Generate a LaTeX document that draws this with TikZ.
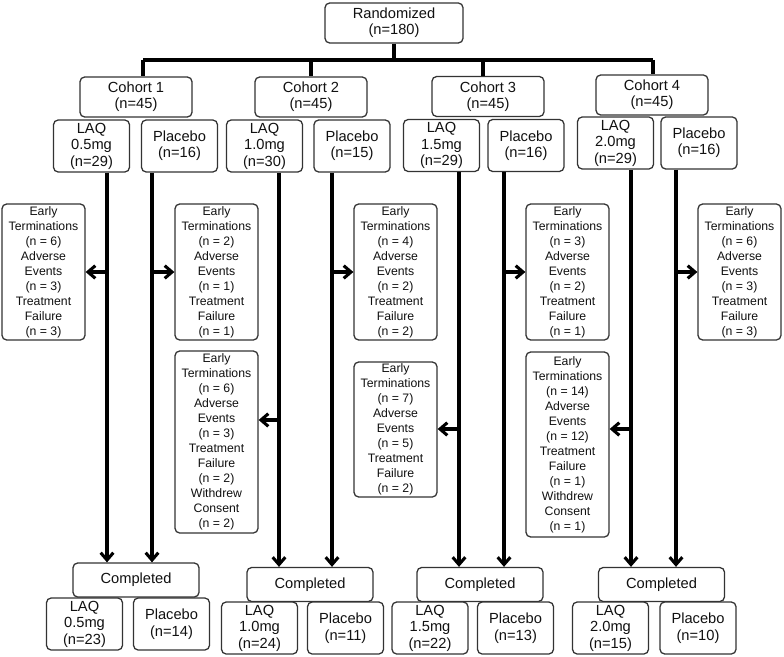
\documentclass[tikz,border=0pt]{standalone}
\usepackage{fontspec}
\setmainfont{Liberation Sans}
\usetikzlibrary{arrows.meta, calc}
\definecolor{boxstroke}{HTML}{333333}
\definecolor{boxtext}{HTML}{111111}
\definecolor{linkstroke}{HTML}{000000}

\begin{document}
\begin{tikzpicture}[
    x=0.75pt, y=-0.75pt,
    group/.style={rectangle, rounded corners=3.5pt, draw=boxstroke, fill=white, text=boxtext, line width=0.95pt, align=center, inner sep=0pt, font=\fontsize{11}{12.3}\selectfont},
    cohort/.style={group, minimum width=84pt, minimum height=30pt},
    arm/.style={group, minimum width=57pt, minimum height=39pt},
    done/.style={group, minimum width=94.5pt, minimum height=25.5pt},
    dropout/.style={group, minimum width=62.25pt, font=\fontsize{9.2}{11.25}\selectfont},
    link/.style={line width=2.3pt, draw=linkstroke},
    arrow/.style={-{Straight Barb[length=5.5pt,width=9.5pt]}, line width=2.3pt, draw=linkstroke}
]
    \useasboundingbox (0,0) rectangle (784,656);

    % Randomization and cohorts
    \node[group, minimum width=103.5pt, minimum height=30pt] (rand) at (394,23) {Randomized\\(n=180)};
    \node[cohort] (coh1) at (136,97) {Cohort 1\\(n=45)};
    \node[cohort] (coh2) at (311,97) {Cohort 2\\(n=45)};
    \node[cohort] (coh3) at (488,96.5) {Cohort 3\\(n=45)};
    \node[cohort] (coh4) at (652,95) {Cohort 4\\(n=45)};

    \coordinate (bus1) at (143,60);
    \coordinate (bus3) at (483,60);
    \coordinate (bus4) at (653,60);
    \draw[link] (bus1) -- (bus4);
    \draw[link] (rand.south) -- (rand.south |- bus1);
    \draw[link] (bus1) -- (bus1 |- coh1.north);
    \draw[link] (coh2.north |- bus1) -- (coh2.north);
    \draw[link] (bus3) -- (bus3 |- coh3.north);
    \draw[link] (bus4) -- (bus4 |- coh4.north);

    % Treatment arms
    \node[arm] (laq1) at (91.5,146) {LAQ\\0.5mg\\(n=29)};
    \node[arm] (plc1) at (179.5,146) {Placebo\\(n=16)};
    \node[arm] (laq2) at (264.5,146) {LAQ\\1.0mg\\(n=30)};
    \node[arm] (plc2) at (352,146) {Placebo\\(n=15)};
    \node[arm] (laq3) at (441.5,145.5) {LAQ\\1.5mg\\(n=29)};
    \node[arm] (plc3) at (526,145.5) {Placebo\\(n=16)};
    \node[arm] (laq4) at (615.5,143) {LAQ\\2.0mg\\(n=29)};
    \node[arm] (plc4) at (699,143) {Placebo\\(n=16)};

    % Early terminations
    \node[dropout, minimum height=102pt] (etA) at (43.5,272) {Early\\Terminations\\(n = 6)\\Adverse\\Events\\(n = 3)\\Treatment\\Failure\\(n = 3)};
    \node[dropout, minimum height=102pt] (etB) at (216.5,272) {Early\\Terminations\\(n = 2)\\Adverse\\Events\\(n = 1)\\Treatment\\Failure\\(n = 1)};
    \node[dropout, minimum height=136.5pt] (etC) at (216.5,442) {Early\\Terminations\\(n = 6)\\Adverse\\Events\\(n = 3)\\Treatment\\Failure\\(n = 2)\\Withdrew\\Consent\\(n = 2)};
    \node[dropout, minimum height=102pt] (etD) at (395.5,272) {Early\\Terminations\\(n = 4)\\Adverse\\Events\\(n = 2)\\Treatment\\Failure\\(n = 2)};
    \node[dropout, minimum height=101.25pt] (etE) at (395.5,429.5) {Early\\Terminations\\(n = 7)\\Adverse\\Events\\(n = 5)\\Treatment\\Failure\\(n = 2)};
    \node[dropout, minimum height=102pt] (etF) at (567.5,272) {Early\\Terminations\\(n = 3)\\Adverse\\Events\\(n = 2)\\Treatment\\Failure\\(n = 1)};
    \node[dropout, minimum height=138.75pt] (etG) at (567.5,444.5) {Early\\Terminations\\(n = 14)\\Adverse\\Events\\(n = 12)\\Treatment\\Failure\\(n = 1)\\Withdrew\\Consent\\(n = 1)};
    \node[dropout, minimum height=102pt] (etH) at (739.5,272) {Early\\Terminations\\(n = 6)\\Adverse\\Events\\(n = 3)\\Treatment\\Failure\\(n = 3)};

    % Completed
    \node[done] (done1) at (136,580) {Completed};
    \node[done] (done2) at (310,584.5) {Completed};
    \node[done] (done3) at (480,584.5) {Completed};
    \node[done] (done4) at (661.5,584.5) {Completed};

    \node[arm] (fin1) at (84.5,624) {LAQ\\0.5mg\\(n=23)};
    \node[arm] (finp1) at (171.5,624) {Placebo\\(n=14)};
    \node[arm] (fin2) at (259.5,628) {LAQ\\1.0mg\\(n=24)};
    \node[arm] (finp2) at (345.5,628) {Placebo\\(n=11)};
    \node[arm] (fin3) at (430,628) {LAQ\\1.5mg\\(n=22)};
    \node[arm] (finp3) at (515.5,628) {Placebo\\(n=13)};
    \node[arm] (fin4) at (610.5,628) {LAQ\\2.0mg\\(n=15)};
    \node[arm] (finp4) at (698,628) {Placebo\\(n=10)};

    % Flow arrows
    \coordinate (l1) at (laq1.south -| 107,0);
    \coordinate (p1) at (plc1.south -| 152,0);
    \coordinate (l2) at (laq2.south -| 279,0);
    \coordinate (p2) at (plc2.south -| 332,0);
    \coordinate (l3) at (laq3.south -| 459,0);
    \coordinate (p3) at (plc3.south -| 504,0);
    \coordinate (l4) at (laq4.south -| 631,0);
    \coordinate (p4) at (plc4.south -| 676,0);

    \draw[arrow] (l1) -- (l1 |- done1.north);
    \draw[arrow] (p1) -- (p1 |- done1.north);
    \draw[arrow] (l2) -- (l2 |- done2.north);
    \draw[arrow] (p2) -- (p2 |- done2.north);
    \draw[arrow] (l3) -- (l3 |- done3.north);
    \draw[arrow] (p3) -- (p3 |- done3.north);
    \draw[arrow] (l4) -- (l4 |- done4.north);
    \draw[arrow] (p4) -- (p4 |- done4.north);

    \draw[arrow] (l1 |- etA.west) -- (etA.east);
    \draw[arrow] (p1 |- etB.west) -- (etB.west);
    \draw[arrow] (l2 |- 0,420) -- (etC.east |- 0,420);
    \draw[arrow] (p2 |- etD.west) -- (etD.west);
    \draw[arrow] (l3 |- 0,429) -- (etE.east |- 0,429);
    \draw[arrow] (p3 |- etF.west) -- (etF.west);
    \draw[arrow] (l4 |- 0,429) -- (etG.east |- 0,429);
    \draw[arrow] (p4 |- etH.west) -- (etH.west);

\end{tikzpicture}
\end{document}
